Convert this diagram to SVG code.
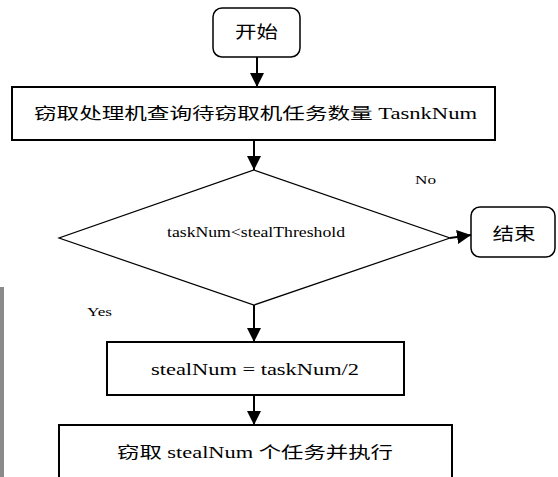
<svg xmlns="http://www.w3.org/2000/svg" width="558" height="477" viewBox="0 0 558 477">
<style>
.box{fill:#fff;stroke:#000;stroke-width:2}
.term{fill:#fff;stroke:#000;stroke-width:1.5}
.dia{fill:#fff;stroke:#000;stroke-width:1.2}
.t{font-family:"Liberation Serif","Noto Sans CJK SC",serif;fill:#000;text-anchor:middle;dominant-baseline:central}
.c{font-family:"Noto Sans CJK SC","Liberation Sans",sans-serif;fill:#000;text-anchor:middle;dominant-baseline:central}
.lbl{font-family:"Liberation Serif",serif;font-size:13px;fill:#000;text-anchor:middle;dominant-baseline:central}
.conn{stroke:#000;stroke-width:2;fill:none}
</style>
<defs>
<marker id="ah" markerUnits="userSpaceOnUse" markerWidth="14" markerHeight="14" viewBox="0 0 14 14" refX="14" refY="7" orient="auto">
<path d="M0,0 L14,7 L0,14 Z" fill="#000"/>
</marker>
</defs>
<rect width="558" height="477" fill="#fff"/>
<rect x="0" y="287" width="4" height="190" fill="#8a8a8a"/>
<g id="start">
<rect class="term" x="213" y="8" width="87" height="49" rx="9"/>
<text class="c" x="256.5" y="30" font-size="17" textLength="43" lengthAdjust="spacingAndGlyphs">开始</text>
</g>
<g id="query">
<rect class="box" x="12" y="87" width="483" height="53"/>
<text class="t" x="255.5" y="113" font-size="16" textLength="443" lengthAdjust="spacingAndGlyphs">窃取处理机查询待窃取机任务数量 TasnkNum</text>
</g>
<g id="decision">
<polygon class="dia" points="254,170 450,238 254,305 59,238"/>
<text class="t" x="256" y="232" font-size="15" textLength="178" lengthAdjust="spacingAndGlyphs">taskNum&lt;stealThreshold</text>
</g>
<g id="end">
<rect class="term" x="471" y="207" width="84" height="50" rx="9"/>
<text class="c" x="514" y="232" font-size="17" textLength="43" lengthAdjust="spacingAndGlyphs">结束</text>
</g>
<g id="calc">
<rect class="box" x="107" y="342" width="297" height="53"/>
<text class="t" x="255" y="369" font-size="16" textLength="208" lengthAdjust="spacingAndGlyphs">stealNum = taskNum/2</text>
</g>
<g id="steal">
<rect class="box" x="59" y="425" width="393" height="60"/>
<text class="t" x="255" y="452" font-size="16" textLength="276" lengthAdjust="spacingAndGlyphs">窃取 stealNum 个任务并执行</text>
</g>
<g id="connectors">
<line class="conn" x1="257" y1="57" x2="257" y2="87" marker-end="url(#ah)"/>
<line class="conn" x1="254" y1="140" x2="254" y2="170" marker-end="url(#ah)"/>
<line class="conn" x1="450" y1="238" x2="471" y2="235" marker-end="url(#ah)"/>
<line class="conn" x1="254" y1="305" x2="254" y2="342" marker-end="url(#ah)"/>
<line class="conn" x1="254" y1="395" x2="254" y2="425" marker-end="url(#ah)"/>
<text class="lbl" x="425.5" y="179" textLength="21" lengthAdjust="spacingAndGlyphs">No</text>
<text class="lbl" x="99.5" y="311" textLength="25" lengthAdjust="spacingAndGlyphs">Yes</text>
</g>
</svg>
